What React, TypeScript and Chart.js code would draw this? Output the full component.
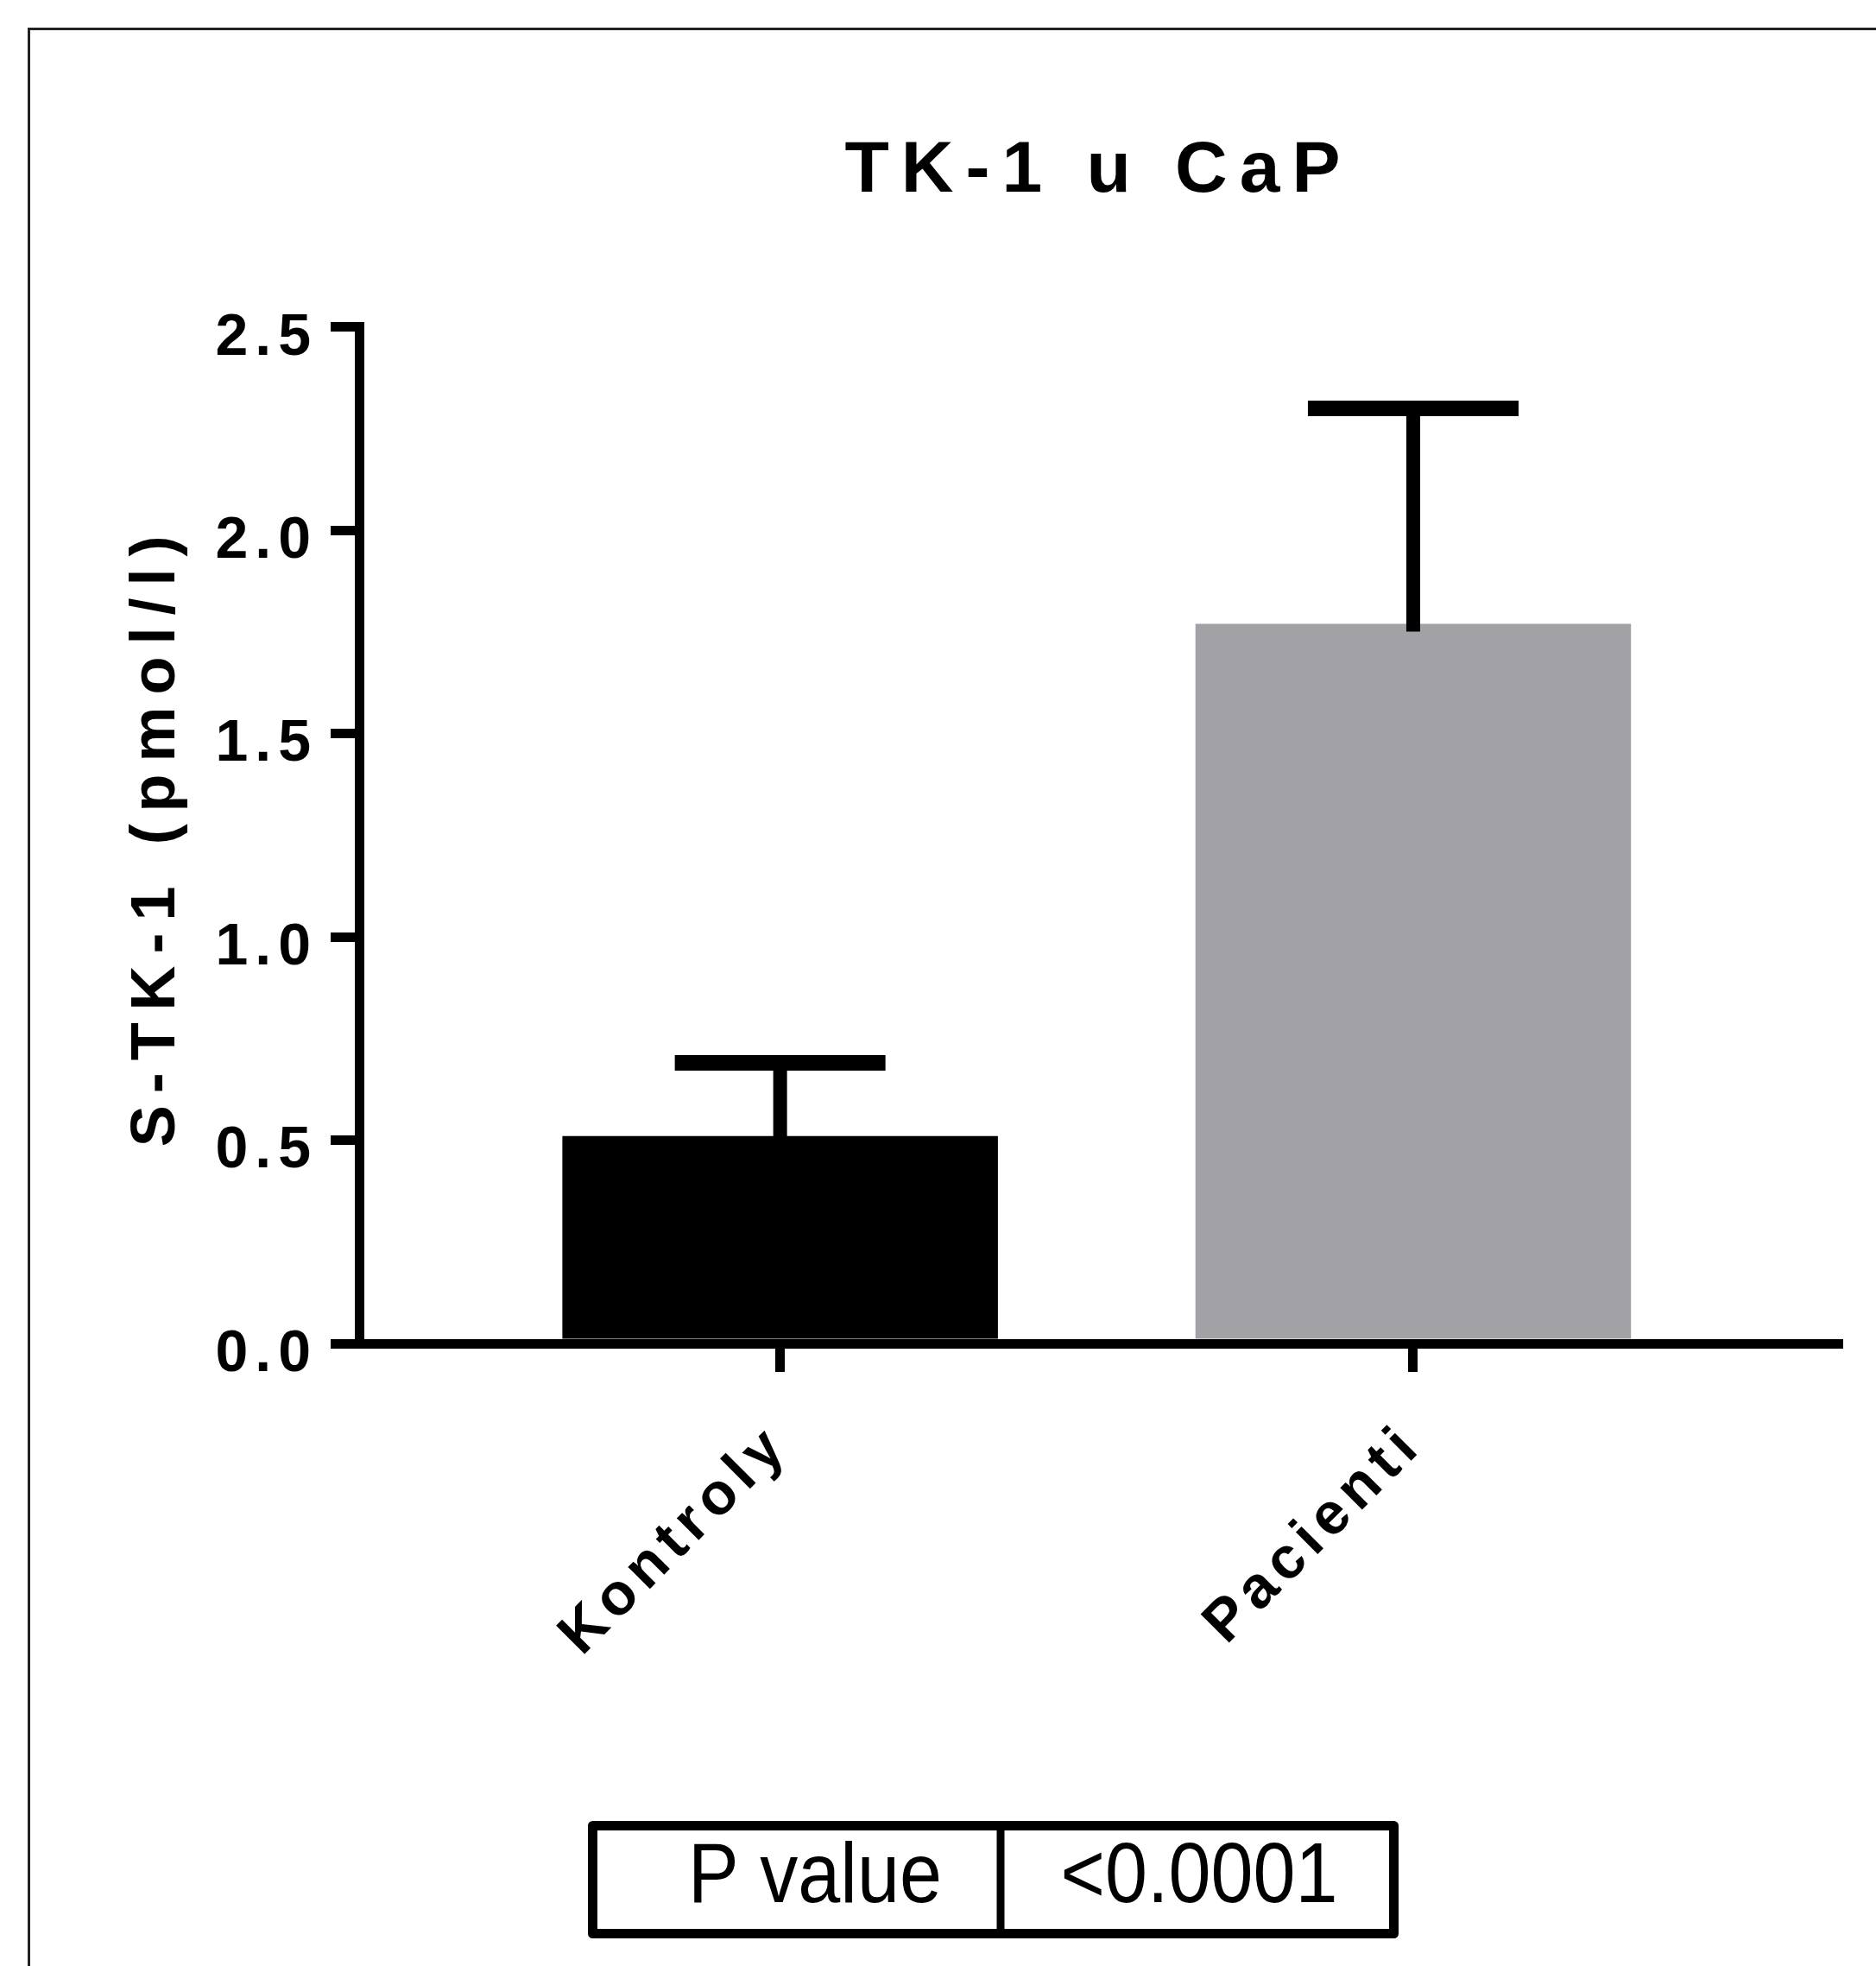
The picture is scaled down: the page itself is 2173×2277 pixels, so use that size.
import React, { useEffect, useRef } from 'react';
import { Chart, registerables } from 'chart.js';

Chart.register(...registerables);

// ---- data ----
const categories = ['Kontroly', 'Pacienti'];
const meanValues = [0.51, 1.77];
const semValues = [0.18, 0.53];
const barColors = ['#000000', '#A2A1A6'];
const yTickValues = [0, 0.5, 1.0, 1.5, 2.0, 2.5];
const chartTitle = 'TK-1 u CaP';
const yAxisTitle = 'S-TK-1 (pmol/l)';
const pValueLabel = 'P value';
const pValueText = '<0.0001';

const FONT = '"Liberation Sans", Arial, Helvetica, sans-serif';
const W = 2173;
const H = 2277;

const decorPlugin = {
  id: 'decor',
  beforeDraw(chart: any) {
    const ctx = chart.ctx;
    ctx.fillStyle = '#ffffff';
    ctx.fillRect(0, 0, chart.width, chart.height);
    (ctx as any).letterSpacing = '14px';
  },
  afterDatasetsDraw(chart: any) {
    const ctx = chart.ctx;
    const meta = chart.getDatasetMeta(0);
    const yScale = chart.scales.y;
    ctx.save();
    ctx.strokeStyle = '#000';
    ctx.lineCap = 'butt';
    meta.data.forEach((bar: any, i: number) => {
      const x = bar.x;
      const yTop = yScale.getPixelForValue(meanValues[i] + semValues[i]);
      const yBase = yScale.getPixelForValue(meanValues[i]);
      ctx.lineWidth = 16;
      ctx.beginPath();
      ctx.moveTo(x, yBase + 9);
      ctx.lineTo(x, yTop);
      ctx.stroke();
      ctx.lineWidth = 18;
      ctx.beginPath();
      ctx.moveTo(x - 122, yTop);
      ctx.lineTo(x + 122, yTop);
      ctx.stroke();
    });
    ctx.restore();
    (ctx as any).letterSpacing = '8px';
  },
  afterDraw(chart: any) {
    const ctx = chart.ctx;
    ctx.save();
    (ctx as any).letterSpacing = '0px';
    // outer frame
    ctx.strokeStyle = '#222';
    ctx.lineWidth = 3;
    ctx.beginPath();
    ctx.moveTo(33.5, H + 10);
    ctx.lineTo(33.5, 33.5);
    ctx.lineTo(W + 10, 33.5);
    ctx.stroke();
    // p value table
    ctx.strokeStyle = '#000';
    ctx.lineWidth = 11;
    ctx.lineJoin = 'round';
    ctx.strokeRect(686.5, 2114.5, 928, 125);
    ctx.lineWidth = 9;
    ctx.beginPath();
    ctx.moveTo(1159, 2114);
    ctx.lineTo(1159, 2240);
    ctx.stroke();
    ctx.fillStyle = '#000';
    ctx.font = `99px ${FONT}`;
    ctx.textAlign = 'center';
    ctx.textBaseline = 'alphabetic';
    const drawScaled = (text: string, cx: number, by: number) => {
      ctx.save();
      ctx.translate(cx, by);
      ctx.scale(0.89, 1);
      ctx.fillText(text, 0, 0);
      ctx.restore();
    };
    drawScaled(pValueLabel, 944, 2203);
    drawScaled(pValueText, 1389, 2203);
    ctx.restore();
  },
};

export default function App() {
  const canvasRef = useRef<HTMLCanvasElement | null>(null);

  useEffect(() => {
    const canvas = canvasRef.current;
    if (!canvas) return;
    const chart = new Chart(canvas, {
      type: 'bar',
      data: {
        datasets: [
          {
            data: categories.map((c, i) => ({ x: i, y: meanValues[i] })) as any,
            backgroundColor: barColors,
            borderWidth: 0,
            barPercentage: 0.688,
            categoryPercentage: 1,
          },
        ],
      },
      options: {
        responsive: false,
        animation: false,
        devicePixelRatio: 1,
        layout: { padding: { top: 0, left: 0, right: 44, bottom: 0 } },
        plugins: {
          legend: { display: false },
          tooltip: { enabled: false },
          title: {
            display: true,
            text: chartTitle,
            fullSize: false,
            color: '#000',
            font: { family: FONT, size: 84, weight: 'bold' },
            padding: { top: 148, bottom: 130 },
          },
        },
        scales: {
          x: {
            type: 'linear',
            offset: false,
            min: -0.665,
            max: 1.671,
            afterBuildTicks: (s: any) => {
              s.ticks = categories.map((_, i) => ({ value: i }));
            },
            afterFit: (s: any) => {
              s.height = 721;
            },
            border: { display: true, width: 11, color: '#000', z: 1 },
            grid: {
              display: true,
              offset: false,
              drawOnChartArea: false,
              drawTicks: true,
              tickLength: 33,
              tickWidth: 11,
              tickColor: '#000',
              lineWidth: 11,
              color: '#000',
            },
            ticks: {
              autoSkip: false,
              minRotation: 45,
              maxRotation: 45,
              padding: 45,
              color: '#000',
              z: 1,
              font: { family: FONT, size: 68, weight: 'bold' },
              callback: (v: any) => categories[v] ?? '',
            },
          },
          y: {
            type: 'linear',
            min: 0,
            max: 2.5,
            afterBuildTicks: (s: any) => {
              s.ticks = yTickValues.map((v) => ({ value: v }));
            },
            afterFit: (s: any) => {
              s.width = 416;
            },
            border: { display: true, width: 11, color: '#000', z: 1 },
            grid: {
              display: true,
              drawOnChartArea: false,
              drawTicks: true,
              tickLength: 33,
              tickWidth: 11,
              tickColor: '#000',
              lineWidth: 11,
              color: '#000',
            },
            ticks: {
              padding: 15,
              labelOffset: 13,
              color: '#000',
              z: 1,
              font: { family: FONT, size: 68, weight: 'bold' },
              callback: (v: any) => Number(v).toFixed(1),
            },
            title: {
              display: true,
              text: yAxisTitle,
              color: '#000',
              font: { family: FONT, size: 72, weight: 'bold' },
              padding: { top: 139, bottom: 0 },
            },
          },
        },
      },
      plugins: [decorPlugin],
    });
    return () => chart.destroy();
  }, []);

  return (
    <div style={{ position: 'absolute', left: 0, top: 0, width: W, height: H }}>
      <canvas
        ref={canvasRef}
        width={W}
        height={H}
        style={{ display: 'block', width: W, height: H }}
      />
    </div>
  );
}
